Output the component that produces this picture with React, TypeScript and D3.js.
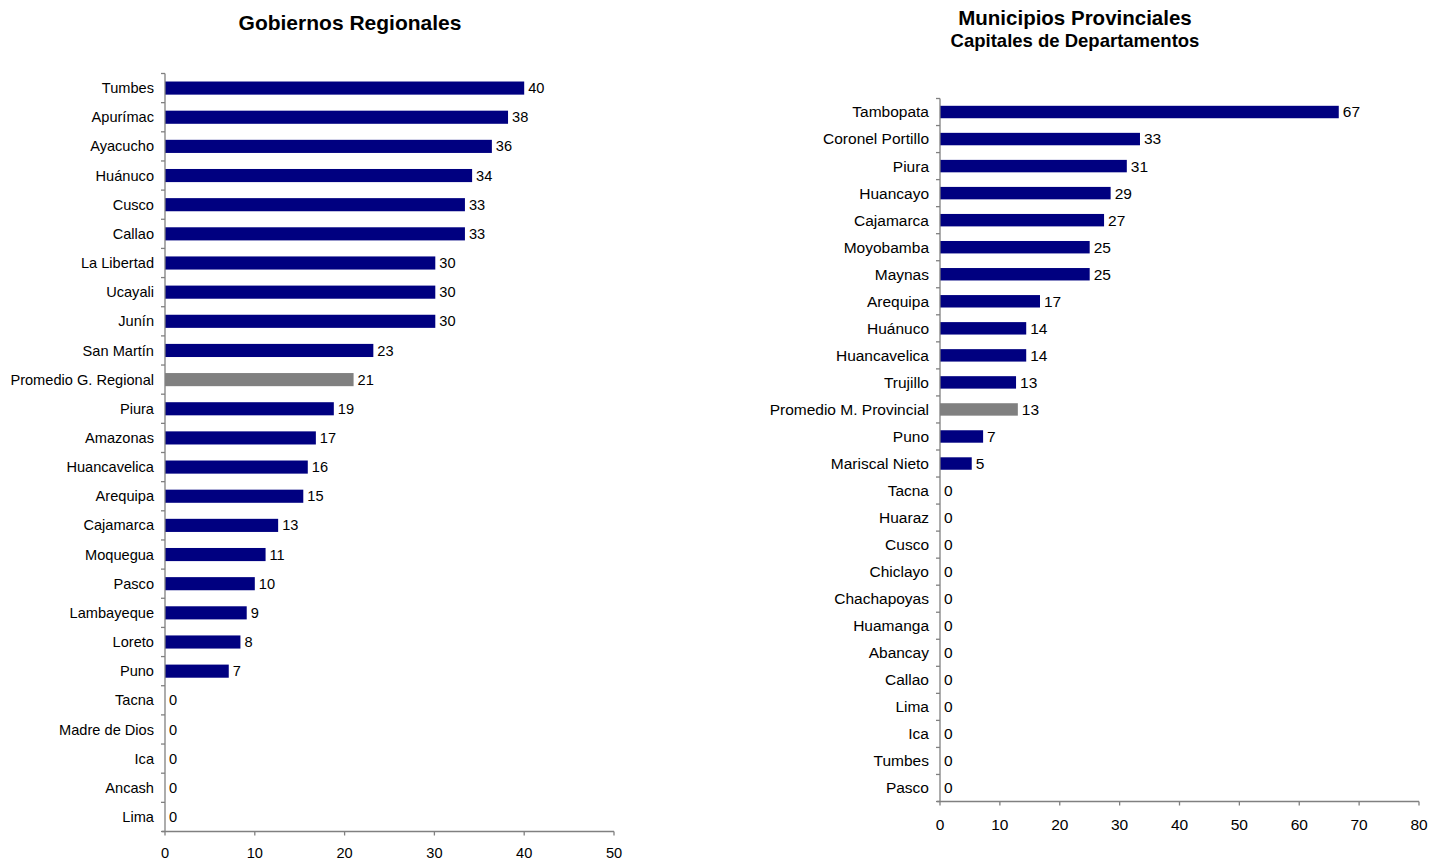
import React from "react";
import * as d3 from "d3";

const regionalNames = ["Tumbes","Apurímac","Ayacucho","Huánuco","Cusco","Callao","La Libertad","Ucayali","Junín","San Martín","Promedio G. Regional","Piura","Amazonas","Huancavelica","Arequipa","Cajamarca","Moquegua","Pasco","Lambayeque","Loreto","Puno","Tacna","Madre de Dios","Ica","Ancash","Lima"];
const regionalValues = [40.0,38.2,36.4,34.2,33.4,33.4,30.1,30.1,30.1,23.2,21.0,18.8,16.8,15.9,15.4,12.6,11.2,10.0,9.1,8.4,7.1,0,0,0,0,0];
const regionalTicks = [0,10,20,30,40,50];

const provNames = ["Tambopata","Coronel Portillo","Piura","Huancayo","Cajamarca","Moyobamba","Maynas","Arequipa","Huánuco","Huancavelica","Trujillo","Promedio M. Provincial","Puno","Mariscal Nieto","Tacna","Huaraz","Cusco","Chiclayo","Chachapoyas","Huamanga","Abancay","Callao","Lima","Ica","Tumbes","Pasco"];
const provValues = [66.6,33.4,31.2,28.5,27.4,25.0,25.0,16.7,14.4,14.4,12.7,13.0,7.2,5.3,0,0,0,0,0,0,0,0,0,0,0,0];
const provTicks = [0,10,20,30,40,50,60,70,80];

const NAVY = "#000080";
const GREY = "#808080";
const AXIS = "#808080";
const FONT = "Arial, 'Liberation Sans', sans-serif";

type PanelProps = {
  names: string[];
  values: number[];
  ticks: number[];
  x0: number; x1: number; y0: number; y1: number;
  max: number;
  barFrac: number;
  avgLabel: string;
  fs: number;
  tickOff: number;
};

function Panel({ names, values, ticks, x0, x1, y0, y1, max, barFrac, avgLabel, fs, tickOff }: PanelProps) {
  const x = d3.scaleLinear().domain([0, max]).range([x0, x1]);
  const y = d3.scaleBand<string>().domain(names).range([y0, y1]).paddingInner(0).paddingOuter(0);
  const bw = y.bandwidth();
  const bh = bw * barFrac;
  const boundaries = d3.range(names.length + 1).map(i => y0 + i * bw);
  return (
    <g fontFamily={FONT}>
      {names.map((n, i) => {
        const cy = (y(n) as number) + bw / 2;
        return (
          <g key={n}>
            <rect x={x(0)} y={cy - bh / 2} width={x(values[i]) - x(0)} height={bh} fill={n === avgLabel ? GREY : NAVY} />
            <text x={x0 - 11} y={cy} dy="0.35em" textAnchor="end" fontSize={fs} fill="#000">{n}</text>
            <text x={x(values[i]) + 4} y={cy} dy="0.35em" textAnchor="start" fontSize={fs} fill="#000">{d3.format(".0f")(values[i])}</text>
          </g>
        );
      })}
      <line x1={x0} x2={x0} y1={y0} y2={y1} stroke={AXIS} strokeWidth={1.3} />
      {boundaries.map((b, i) => (
        <line key={i} x1={x0 - 4} x2={x0} y1={b} y2={b} stroke={AXIS} strokeWidth={1.3} />
      ))}
      <line x1={x0 - 3} x2={x1} y1={y1} y2={y1} stroke={AXIS} strokeWidth={1.3} />
      {ticks.map(t => (
        <g key={t}>
          <line x1={x(t)} x2={x(t)} y1={y1} y2={y1 + 4} stroke={AXIS} strokeWidth={1.3} />
          <text x={x(t)} y={y1 + tickOff} textAnchor="middle" fontSize={fs} fill="#000">{t}</text>
        </g>
      ))}
    </g>
  );
}

export default function App() {
  return (
    <svg width={1439} height={859} style={{ position: "absolute", left: 0, top: 0, background: "#fff" }}>
      <rect width={1439} height={859} fill="#fff" />
      <text x={350} y={30} textAnchor="middle" fontFamily={FONT} fontWeight="bold" fontSize={21}>Gobiernos Regionales</text>
      <text x={1075} y={25} textAnchor="middle" fontFamily={FONT} fontWeight="bold" fontSize={20.5}>Municipios Provinciales</text>
      <text x={1075} y={47} textAnchor="middle" fontFamily={FONT} fontWeight="bold" fontSize={18.5}>Capitales de Departamentos</text>
      <Panel names={regionalNames} values={regionalValues} ticks={regionalTicks}
        x0={165} x1={614} y0={73.5} y1={831.5} max={50} barFrac={0.45} avgLabel="Promedio G. Regional" fs={14.6} tickOff={26} />
      <Panel names={provNames} values={provValues} ticks={provTicks}
        x0={940} x1={1419} y0={98.5} y1={801.5} max={80} barFrac={0.46} avgLabel="Promedio M. Provincial" fs={15.5} tickOff={28} />
    </svg>
  );
}
